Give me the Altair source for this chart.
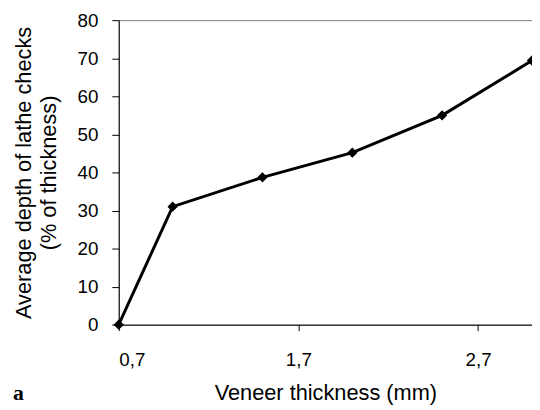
import altair as alt
import pandas as pd

thickness = [0.7, 1.0, 1.5, 2.0, 2.5, 3.0]
depth = [0.0, 31.0, 38.7, 45.2, 55.0, 69.4]
x_ticks = [0.7, 1.7, 2.7]
y_ticks = [0, 10, 20, 30, 40, 50, 60, 70, 80]
panel_label = ["a"]

df = pd.DataFrame({"t": thickness, "d": depth})
FONT = "Liberation Sans"

x = alt.X("t:Q", scale=alt.Scale(domain=[0.7, 3.0], nice=False, zero=False),
          axis=alt.Axis(values=x_ticks, labelExpr="replace(format(datum.value, '.1f'), '.', ',')",
                        title="Veneer thickness (mm)", grid=False, tickSize=6,
                        labelBaseline="alphabetic", labelPadding=35,
                        titleBaseline="alphabetic", titleY=76, titleX=209,
                        domainColor="black", tickColor="black",
                        labelFont=FONT, titleFont=FONT, labelFontSize=19, titleFontSize=22,
                        titleFontWeight="normal", labelColor="black", titleColor="black"))
y = alt.Y("d:Q", scale=alt.Scale(domain=[0, 80], nice=False),
          axis=alt.Axis(values=y_ticks, title=["Average depth of lathe checks", "(% of thickness)"],
                        grid=False, tickSize=7, labelPadding=14,
                        titleBaseline="alphabetic", titleX=-89, titleY=154, titleAngle=270,
                        domainColor="black", tickColor="black",
                        labelFont=FONT, titleFont=FONT, labelFontSize=19, titleFontSize=22,
                        titleFontWeight="normal", labelColor="black", titleColor="black",
                        titleLineHeight=25))

line = alt.Chart(df).mark_line(color="black", strokeWidth=3, clip=False).encode(x=x, y=y)
pts = alt.Chart(df).mark_point(shape="diamond", filled=True, color="black", size=110, opacity=1, clip=False).encode(x=x, y=y)

lab = alt.Chart(pd.DataFrame({"l": panel_label})).mark_text(
    font="Liberation Serif", fontSize=22, fontWeight="bold", align="left", baseline="alphabetic", color="black"
).encode(text="l:N", x=alt.value(-107), y=alt.value(384))

chart = alt.layer(line, pts, lab).properties(
    width=418, height=308,
    autosize=alt.AutoSizeParams(type="none"),
    padding={"left": 112, "top": 10, "right": 0, "bottom": 84},
).configure_view(stroke="#808080", strokeWidth=1)

chart.save("out.html", embed_options={"renderer": "svg", "actions": False})
